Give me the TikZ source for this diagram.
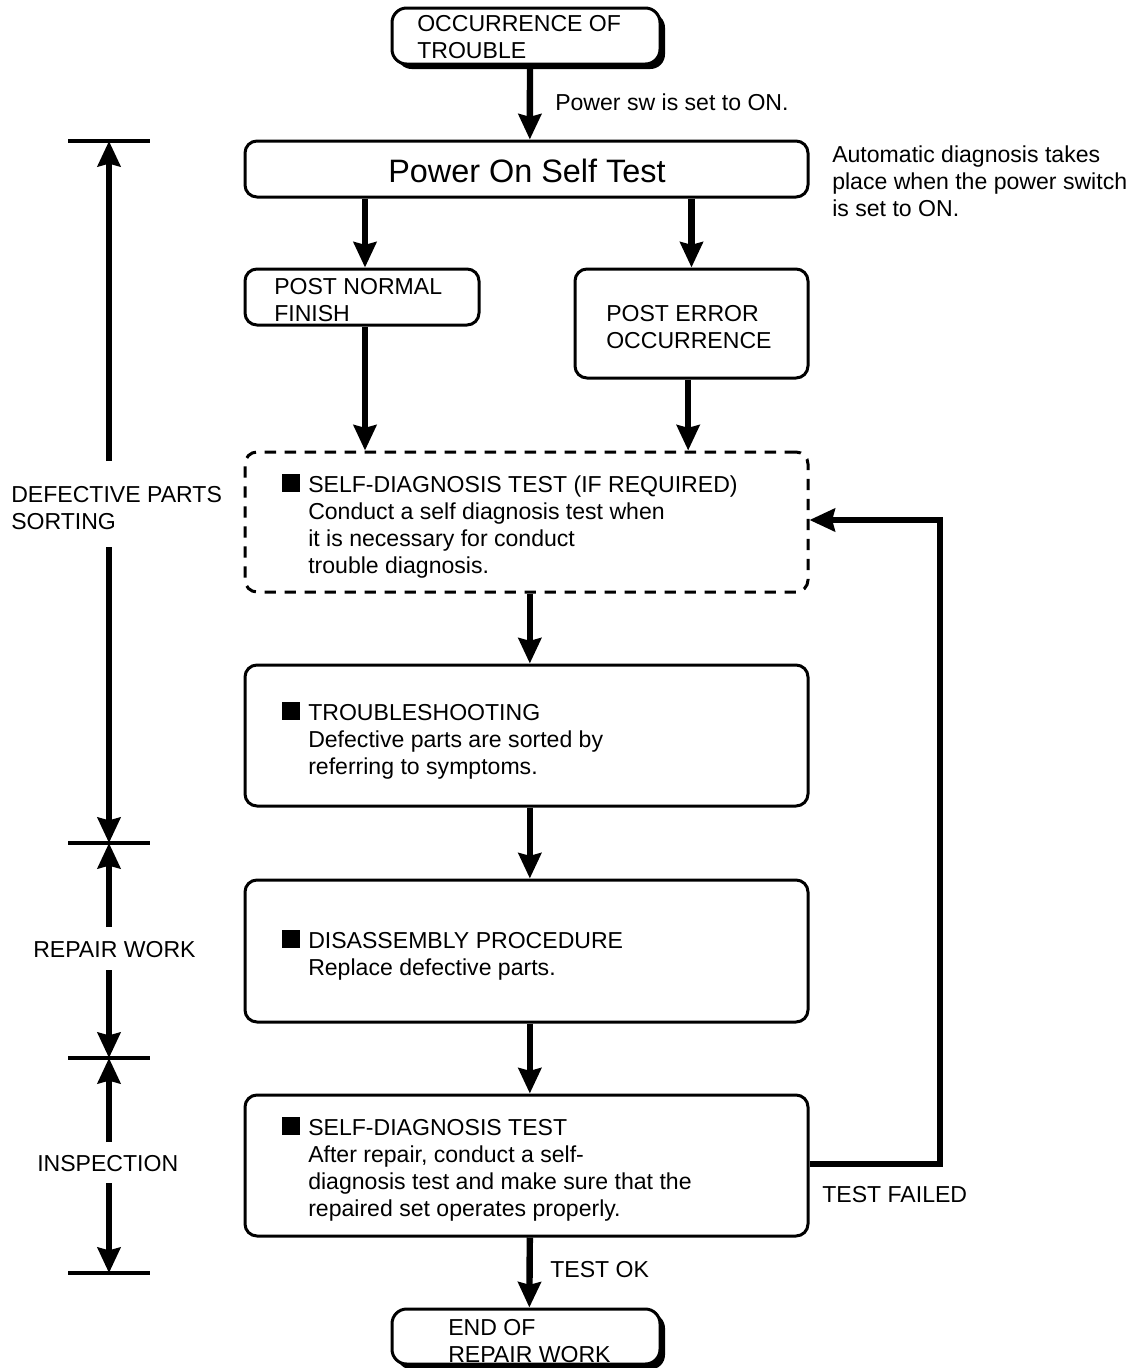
\documentclass[tikz,border=0pt]{standalone}
\usepackage{fontspec}
\setmainfont{Liberation Sans}
\usetikzlibrary{arrows.meta,calc}
\begin{document}
\begin{tikzpicture}[x=0.75pt,y=-0.75pt,
  box/.style={draw, line width=2.25pt, rounded corners=9pt, fill=white, inner sep=0pt},
  termbox/.style={box, rounded corners=11pt, minimum width=201pt, minimum height=42pt},
  shadowbox/.style={fill=black, rounded corners=11pt, inner sep=0pt, minimum width=201pt, minimum height=42pt},
  dashbox/.style={box, dash pattern=on 8.5pt off 6.5pt},
  txt/.style={anchor=base west, align=left, inner sep=0pt, font=\fontsize{17.3pt}{20.4pt}\selectfont},
  bigtxt/.style={inner sep=0pt, font=\fontsize{24.3pt}{28pt}\selectfont},
  bullet/.style={fill=black, inner sep=0pt, minimum size=13pt, anchor=south west},
  arr/.style={line width=4.8pt, -{Stealth[length=19pt, width=17pt, inset=2pt]}},
  tick/.style={line width=2.4pt}
]
\useasboundingbox (0,0) rectangle (1133,1368);
\clip (0,0) rectangle (1133,1368);

% terminal boxes with shadow
\node[shadowbox] (topS) at (531,41) {};
\node[termbox] (top) at (526,36) {};
\node[shadowbox] (endS) at (531,1341.5) {};
\node[termbox, minimum height=41.25pt] (end) at (526,1336.5) {};

% process boxes
\node[box, minimum width=422.25pt, minimum height=42pt] (post) at (526.5,169) {};
\node[box, minimum width=175.5pt, minimum height=42pt] (pnf) at (362,297) {};
\node[box, minimum width=174.75pt, minimum height=81.75pt] (peo) at (691.5,323.5) {};
\node[dashbox, minimum width=422.25pt, minimum height=105pt] (sd1) at (526.5,522) {};
\node[box, minimum width=422.25pt, minimum height=105.75pt] (ts) at (526.5,735.5) {};
\node[box, minimum width=422.25pt, minimum height=106.5pt] (da) at (526.5,951) {};
\node[box, minimum width=422.25pt, minimum height=105.75pt] (sd2) at (526.5,1165.5) {};

% texts (anchored at the baseline of their last line)
\node[txt] (tTop) at (417,58.2) {OCCURRENCE OF\\TROUBLE};
\node[txt] (tPow) at (555,110) {Power sw is set to ON.};
\node[bigtxt] (tPost) at (527,171) {Power On Self Test};
\node[txt] (tAuto) at (832,216.4) {Automatic diagnosis takes\\place when the power switch\\is set to ON.};
\node[txt] (tPnf) at (274,321.2) {POST NORMAL\\FINISH};
\node[txt] (tPeo) at (606,348.2) {POST ERROR\\OCCURRENCE};
\node[bullet] (b1) at (282,492) {};
\node[txt] (tSd1) at (308,573.6) {SELF-DIAGNOSIS TEST (IF REQUIRED)\\Conduct a self diagnosis test when\\it is necessary for conduct\\trouble diagnosis.};
\node[bullet] (b2) at (282,720) {};
\node[txt] (tTs) at (308,774.4) {TROUBLESHOOTING\\Defective parts are sorted by\\referring to symptoms.};
\node[bullet] (b3) at (282,948) {};
\node[txt] (tDa) at (308,975.2) {DISASSEMBLY PROCEDURE\\Replace defective parts.};
\node[bullet] (b4) at (282,1135) {};
\node[txt] (tSd2) at (308,1216.6) {SELF-DIAGNOSIS TEST\\After repair, conduct a self-\\diagnosis test and make sure that the\\repaired set operates properly.};
\node[txt] (tOk) at (550,1277) {TEST OK};
\node[txt] (tEnd) at (448,1362.2) {END OF\\REPAIR WORK};
\node[txt] (tFail) at (822,1202) {TEST FAILED};
\node[txt] (tDef) at (11,529.2) {DEFECTIVE PARTS\\SORTING};
\node[txt] (tRep) at (33,957) {REPAIR WORK};
\node[txt] (tIns) at (37,1171) {INSPECTION};

% main flow arrows
\draw[arr] ([xshift=3pt]top.south) -- ([xshift=2.5pt]post.north);
\draw[arr] ([xshift=2.25pt]pnf.north |- post.south) -- ([xshift=2.25pt]pnf.north);
\draw[arr] (peo.north |- post.south) -- (peo.north);
\draw[arr] ([xshift=2.25pt]pnf.south) -- ([xshift=2.25pt]pnf.south |- sd1.north);
\draw[arr] ([xshift=-2.5pt]peo.south) -- ([xshift=-2.5pt]peo.south |- sd1.north);
\draw[arr] ([xshift=2.5pt]sd1.south) -- ([xshift=2.5pt]ts.north);
\draw[arr] ([xshift=2.5pt]ts.south) -- ([xshift=2.5pt]da.north);
\draw[arr] ([xshift=2.5pt]da.south) -- ([xshift=2.5pt]sd2.north);
\draw[arr] ([xshift=2.5pt]sd2.south) -- ([xshift=2.5pt]end.north);

% loop back
\coordinate (lp) at (940,520);
\draw[arr] ([yshift=1pt]sd2.east) -| (lp) -- (lp -| sd1.east);

% left dimension lines
\coordinate (t1) at (109,141);
\coordinate (t2) at (109,843);
\coordinate (t3) at (109,1058);
\coordinate (t4) at (109,1273);
\coordinate (g1a) at (109,461);
\coordinate (g1b) at (109,547);
\coordinate (g2a) at (109,927);
\coordinate (g2b) at (109,970);
\coordinate (g3a) at (109,1142);
\coordinate (g3b) at (109,1183);
\foreach \t in {t1,t2,t3,t4} \draw[tick] ([xshift=-30.75pt]\t) -- ([xshift=30.75pt]\t);
\draw[arr] (g1a) -- (t1);
\draw[arr] (g1b) -- (t2);
\draw[arr] (g2a) -- (t2);
\draw[arr] (g2b) -- (t3);
\draw[arr] (g3a) -- (t3);
\draw[arr] (g3b) -- (t4);
\end{tikzpicture}
\end{document}
